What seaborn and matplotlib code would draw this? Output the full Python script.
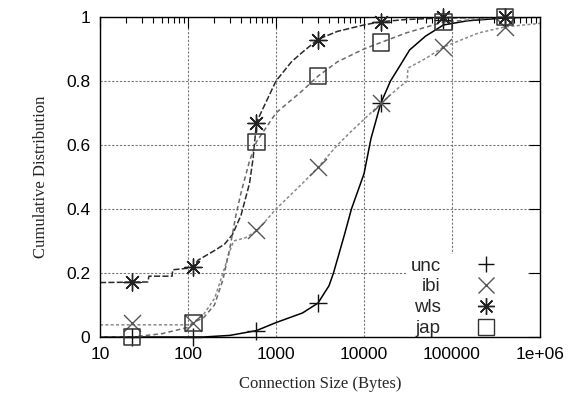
import seaborn as sns
import pandas as pd
import matplotlib.pyplot as plt
from matplotlib.lines import Line2D
from matplotlib.ticker import LogLocator, NullFormatter

# CDF curves
unc_x = [10, 150, 300, 600, 1000, 2000, 3000, 4000, 4500, 6000, 7200, 10000, 12000,
         15500, 20000, 24000, 33000, 50000, 80000, 150000, 400000, 1e6]
unc_y = [0, 0, 0.005, 0.02, 0.045, 0.075, 0.106, 0.16, 0.2, 0.32, 0.4, 0.51, 0.62,
         0.73, 0.8, 0.835, 0.897, 0.94, 0.975, 0.988, 0.997, 1.0]

ibi_x = [10, 100, 115, 150, 200, 250, 300, 330, 450, 620, 1000, 2000, 3000, 5000,
         7000, 10000, 15500, 25000, 31000, 31500, 50000, 80000, 200000, 400000, 1e6]
ibi_y = [0.038, 0.038, 0.045, 0.07, 0.12, 0.2, 0.27, 0.3, 0.31, 0.334, 0.4, 0.48,
         0.53, 0.6, 0.64, 0.68, 0.73, 0.78, 0.8, 0.84, 0.87, 0.906, 0.95, 0.969, 0.98]

wls_x = [10, 35, 36, 66, 67, 100, 115, 130, 200, 260, 320, 400, 500, 550, 600, 700,
         1000, 1500, 2000, 3000, 5000, 10000, 15500, 30000, 80000, 1e6]
wls_y = [0.17, 0.172, 0.19, 0.19, 0.21, 0.215, 0.22, 0.24, 0.27, 0.29, 0.32, 0.38,
         0.48, 0.56, 0.67, 0.71, 0.8, 0.86, 0.89, 0.93, 0.955, 0.975, 0.985, 0.992,
         0.997, 1.0]

jap_x = [10, 23, 50, 100, 115, 150, 200, 250, 300, 350, 400, 500, 600, 1000, 2000,
         3000, 5000, 10000, 15500, 30000, 80000, 400000, 1e6]
jap_y = [0.0, 0.0, 0.01, 0.03, 0.045, 0.06, 0.1, 0.18, 0.28, 0.38, 0.45, 0.55, 0.61,
         0.7, 0.77, 0.815, 0.86, 0.9, 0.92, 0.95, 0.984, 1.0, 1.0]

# point markers
mark_x = [23, 115, 600, 3000, 15500, 80000, 400000]
unc_m = [0, 0, 0.02, 0.106, 0.73, 0.99, 1.0]
ibi_m = [0.044, 0.045, 0.334, 0.53, 0.73, 0.906, 0.969]
wls_m = [0.172, 0.219, 0.669, 0.928, 0.984, 1.0, 1.0]
jap_m = [0.0, 0.044, 0.61, 0.815, 0.92, 0.984, 1.0]

labels = ["unc", "ibi", "wls", "jap"]
x_ticks = [10, 100, 1000, 10000, 100000, 1e6]
x_labels = ["10", "100", "1000", "10000", "100000", "1e+06"]
y_ticks = [0, 0.2, 0.4, 0.6, 0.8, 1.0]
y_labels = ["0", "0.2", "0.4", "0.6", "0.8", "1"]

sns.set_style("white")
plt.rcParams['font.family'] = ['Liberation Sans', 'DejaVu Sans']


def main():
    fig = plt.figure(figsize=(5.74, 3.98), dpi=100)
    ax = fig.add_axes([0.1742, 0.1533, 0.7666, 0.8041])

    styles = [
        (unc_x, unc_y, unc_m, "#000000", "-", "+", "#111111"),
        (ibi_x, ibi_y, ibi_m, "#8a8a8a", (0, (2, 1.5)), "x", "#555555"),
        (wls_x, wls_y, wls_m, "#2a2a2a", (0, (4, 1.5)), (8, 2, 0), "#222222"),
        (jap_x, jap_y, jap_m, "#6a6a6a", (0, (3, 2)), "s", "#333333"),
    ]
    handles = []
    for (xs, ys, ms, col, ls, mk, mcol), lab in zip(styles, labels):
        df = pd.DataFrame({"size": xs, "cdf": ys})
        sns.lineplot(data=df, x="size", y="cdf", estimator=None, sort=False,
                     color=col, linestyle=ls, linewidth=1.1, ax=ax)
        mdf = pd.DataFrame({"size": mark_x, "cdf": ms})
        if mk == "s":
            sns.scatterplot(data=mdf, x="size", y="cdf", marker="s", s=140,
                            facecolor="none", edgecolor=mcol, linewidth=1.1,
                            clip_on=False, zorder=5, ax=ax)
        else:
            sns.scatterplot(data=mdf, x="size", y="cdf", marker=mk, s=150,
                            color=mcol, linewidth=1.0, clip_on=False, zorder=5, ax=ax)
        handles.append(Line2D([], [], ls="none", marker=mk, markersize=12,
                              markerfacecolor="none", markeredgecolor=mcol,
                              markeredgewidth=1.0, color=mcol))

    ax.set_xscale("log")
    ax.set_xlim(10, 1e6)
    ax.set_ylim(0, 1)
    ax.set_xticks(x_ticks)
    ax.set_xticklabels(x_labels)
    ax.xaxis.set_minor_locator(LogLocator(base=10, subs=range(2, 10)))
    ax.xaxis.set_minor_formatter(NullFormatter())
    ax.set_yticks(y_ticks)
    ax.set_yticklabels(y_labels)
    ax.tick_params(which="both", direction="in", top=True, right=True,
                   labelsize=12.5, colors="black", pad=7)
    ax.tick_params(which="major", length=8, width=0.8)
    ax.tick_params(which="minor", length=4, width=0.8)
    ax.grid(True, which="major", color="#777777", linestyle=(0, (2, 1.5)), linewidth=0.8)
    for sp in ax.spines.values():
        sp.set_color("black")
        sp.set_linewidth(1.0)
        sp.set_zorder(3)

    ax.set_xlabel("Connection Size (Bytes)", fontfamily="Liberation Serif",
                  fontsize=12, labelpad=10)
    ax.set_ylabel("Cumulative Distribution", fontfamily="Liberation Serif",
                  fontsize=12, labelpad=12)

    leg = ax.legend(handles, labels, loc="lower right", bbox_to_anchor=(0.97, -0.0125),
                    markerfirst=False, frameon=True, fancybox=False, fontsize=13.5,
                    handletextpad=0.4, handlelength=4.0, labelspacing=0.2,
                    borderpad=0.2, borderaxespad=0.0)
    leg.get_frame().set_facecolor("white")
    leg.get_frame().set_edgecolor("none")
    leg.get_frame().set_alpha(1.0)
    leg.set_zorder(2.6)

    fig.savefig("out.png", dpi=100)


if __name__ == "__main__":
    main()
